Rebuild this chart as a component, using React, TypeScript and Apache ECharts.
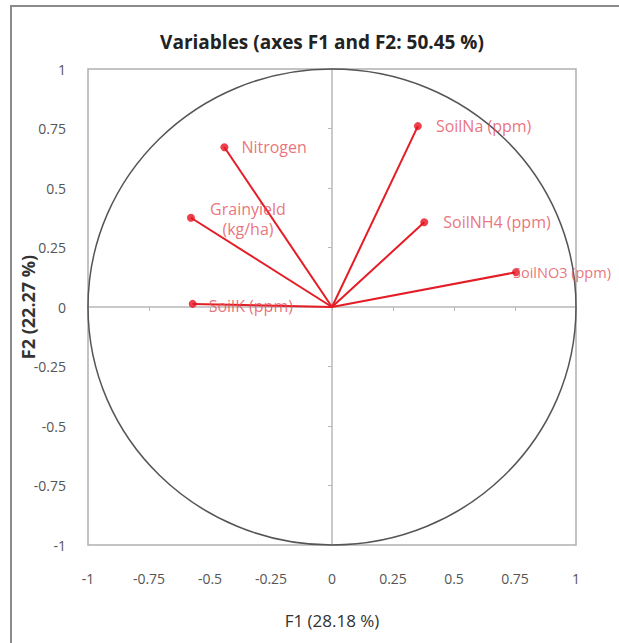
import React, { useEffect, useRef } from "react";
import * as echarts from "echarts";

const variables = [
  "Nitrogen",
  "Grainyield\n(kg/ha)",
  "SoilK (ppm)",
  "SoilNa (ppm)",
  "SoilNH4 (ppm)",
  "SoilNO3 (ppm)",
];
const f1Values = [-0.441, -0.578, -0.571, 0.352, 0.378, 0.754];
const f2Values = [0.671, 0.375, 0.013, 0.760, 0.356, 0.146];
const tickValues = [-1, -0.75, -0.5, -0.25, 0, 0.25, 0.5, 0.75, 1];

const titleText = "Variables (axes F1 and F2: 50.45 %)";
const xName = "F1 (28.18 %)";
const yName = "F2 (22.27 %)";

const FONT = "'Open Sans', Lato, sans-serif";
const LABEL_COLOR = "#e4505a";
const LINE_COLOR = "#e41c26";

// label placement (style only)
const labelPlacement: Record<string, any> = {
  "Nitrogen": { position: "right", distance: 13 },
  "Grainyield\n(kg/ha)": { position: [61, 5], align: "center", verticalAlign: "middle" },
  "SoilK (ppm)": { position: "right", distance: 12, offset: [0, 2] },
  "SoilNa (ppm)": { position: "right", distance: 14 },
  "SoilNH4 (ppm)": { position: "right", distance: 15 },
  "SoilNO3 (ppm)": { position: "right", distance: -7, fontSize: 14.5 },
};

export default function App() {
  const ref = useRef<HTMLDivElement>(null);
  useEffect(() => {
    if (!ref.current) return;
    const chart = echarts.init(ref.current, undefined, { renderer: "svg" });
    const points = variables.map((name, i) => ({
      name,
      value: [f1Values[i], f2Values[i]],
      label: { show: true, ...labelPlacement[name] },
    }));
    const tickFmt = (v: number) => (tickValues.includes(v) ? String(v) : "");
    chart.setOption({
      animation: false,
      backgroundColor: "#ffffff",
      graphic: [
        {
          type: "rect",
          shape: { x: 11, y: 6, width: 640, height: 680 },
          style: { fill: "none", stroke: "#8a8a8a", lineWidth: 2 },
          silent: true,
        },
        {
          type: "text",
          x: 322,
          y: 42,
          silent: true,
          style: {
            text: titleText,
            fontFamily: FONT,
            fontSize: 19,
            fontWeight: "bold",
            fill: "#222",
            textAlign: "center",
            textVerticalAlign: "middle",
          },
        },
      ],
      grid: {
        left: 88,
        top: 69,
        width: 488,
        height: 476,
        show: true,
        borderColor: "#b0b0b0",
        borderWidth: 1.5,
        backgroundColor: "transparent",
      },
      xAxis: [
        {
          type: "value",
          min: -1,
          max: 1,
          interval: 0.25,
          axisLine: { show: false, onZero: false },
          axisTick: { show: false },
          splitLine: { show: false },
          axisLabel: {
            margin: 26,
            fontFamily: FONT,
            fontSize: 14,
            color: "#555",
            formatter: tickFmt,
          },
          name: xName,
          nameLocation: "middle",
          nameGap: 67,
          nameMoveOverlap: false,
          nameTextStyle: { fontFamily: FONT, fontSize: 17, color: "#333" },
        },
        {
          type: "value",
          min: -1,
          max: 1,
          interval: 0.25,
          position: "bottom",
          axisLine: { show: true, onZero: true, lineStyle: { color: "#b8b8b8", width: 1.5 } },
          axisTick: { show: true, inside: false, length: 4, lineStyle: { color: "#b8b8b8" } },
          axisLabel: { show: false },
          splitLine: { show: false },
        },
      ],
      yAxis: [
        {
          type: "value",
          min: -1,
          max: 1,
          interval: 0.25,
          axisLine: { show: false, onZero: false },
          axisTick: { show: false },
          splitLine: { show: false },
          axisLabel: {
            margin: 22,
            fontFamily: FONT,
            fontSize: 14,
            color: "#555",
            formatter: tickFmt,
          },
          name: yName,
          nameLocation: "middle",
          nameGap: 51,
          nameRotate: 90,
          nameMoveOverlap: false,
          nameTextStyle: { fontFamily: FONT, fontSize: 18, fontWeight: "bold", color: "#333" },
        },
        {
          type: "value",
          min: -1,
          max: 1,
          interval: 0.25,
          position: "left",
          axisLine: { show: true, onZero: true, lineStyle: { color: "#b8b8b8", width: 1.5 } },
          axisTick: { show: true, inside: false, length: 4, lineStyle: { color: "#b8b8b8" } },
          axisLabel: { show: false },
          splitLine: { show: false },
        },
      ],
      series: [
        {
          type: "custom",
          xAxisIndex: 0,
          yAxisIndex: 0,
          silent: true,
          z: 3,
          data: [[0, 0]],
          renderItem: (params: any, api: any) => {
            const c = api.coord([0, 0]);
            const s = api.size([1, 1]);
            return {
              type: "ellipse",
              shape: { cx: c[0], cy: c[1], rx: s[0], ry: s[1] },
              style: { fill: "none", stroke: "#555", lineWidth: 1.5 },
            };
          },
        },
        {
          type: "custom",
          xAxisIndex: 0,
          yAxisIndex: 0,
          silent: true,
          z: 4,
          data: variables.map((_, i) => [f1Values[i], f2Values[i]]),
          renderItem: (params: any, api: any) => {
            const p0 = api.coord([0, 0]);
            const p1 = api.coord([api.value(0), api.value(1)]);
            return {
              type: "line",
              shape: { x1: p0[0], y1: p0[1], x2: p1[0], y2: p1[1] },
              style: { stroke: LINE_COLOR, lineWidth: 2 },
            };
          },
        },
        {
          type: "scatter",
          xAxisIndex: 0,
          yAxisIndex: 0,
          z: 5,
          symbol: "circle",
          symbolSize: 8,
          itemStyle: { color: "#e8101e" },
          label: {
            show: true,
            formatter: "{b}",
            fontFamily: FONT,
            fontSize: 16,
            color: LABEL_COLOR,
            lineHeight: 20,
          },
          data: points,
        },
      ],
    });
    return () => chart.dispose();
  }, []);
  return (
    <div
      ref={ref}
      style={{ position: "fixed", left: 0, top: 0, width: 619, height: 643 }}
    />
  );
}
